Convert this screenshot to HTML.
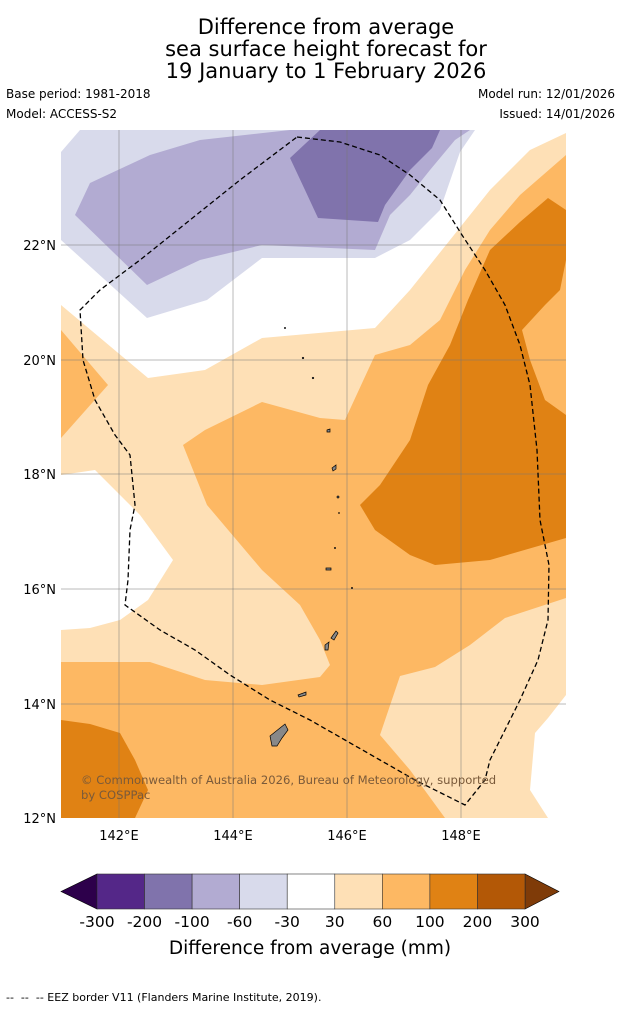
<!DOCTYPE html>
<html><head><meta charset="utf-8"><style>
body{margin:0;width:621px;height:1011px;background:#fff;font-family:"DejaVu Sans","Liberation Sans",sans-serif;position:relative;overflow:hidden}
.t{position:absolute;white-space:nowrap}
</style></head><body>
<div class="t" style="left:0;width:652px;top:16px;text-align:center;font-size:21px;line-height:22px;color:#000">Difference from average<br>sea surface height forecast for<br>19 January to 1 February 2026</div>
<div class="t" style="left:6px;top:87px;font-size:12px">Base period: 1981-2018</div>
<div class="t" style="left:6px;top:107px;font-size:12px">Model: ACCESS-S2</div>
<div class="t" style="right:6px;top:87px;font-size:12px">Model run: 12/01/2026</div>
<div class="t" style="right:6px;top:107px;font-size:12px">Issued: 14/01/2026</div>
<svg width="621" height="1011" style="position:absolute;left:0;top:0">
<defs><clipPath id="mc"><rect x="61" y="130" width="505" height="688"/></clipPath></defs>
<g clip-path="url(#mc)">
<rect x="61" y="130" width="505" height="688" fill="#fff"/>
<polygon fill="#d8daeb" points="80,130 475,130 460,152 440,210 410,240 375,258 262,258 207,300 147,318 61,240 61,152"/>
<polygon fill="#b2abd2" points="290,130 470,130 455,140 430,170 410,195 390,215 375,250 330,248 262,245 200,260 147,285 75,215 90,183 150,155 200,140"/>
<polygon fill="#8073ac" points="290,158 320,130 440,130 432,148 410,170 385,205 378,222 318,218 305,190"/>
<polygon fill="#fee0b6" points="566,133 530,150 490,190 450,240 410,290 375,328 262,338 205,370 148,378 61,305 61,818 566,818"/>
<polygon fill="#fff" points="61,475 95,470 140,515 173,560 148,600 120,620 90,628 61,630"/>
<polygon fill="#fdb863" points="61,330 108,385 61,438"/>
<polygon fill="#fdb863" points="566,155 520,195 490,230 465,270 440,320 410,345 375,355 345,420 320,418 262,402 205,430 183,445 207,505 262,570 300,605 320,640 330,665 320,677 262,685 205,680 150,662 61,662 61,818 566,818"/>
<polygon fill="#fee0b6" points="380,735 410,770 445,818 566,818 566,598 505,618 470,645 435,667 400,676"/>
<polygon fill="#fff" points="566,695 548,718 535,733 530,790 548,818 566,818"/>
<polygon fill="#e08214" points="566,210 548,198 520,222 490,250 468,300 450,345 428,385 410,440 380,485 360,505 375,530 410,555 435,565 490,560 566,538 566,415 545,400 530,360 522,330 545,305 560,290 566,260"/>
<polygon fill="#e08214" points="61,720 90,724 120,733 135,760 148,790 135,818 61,818"/>
</g>
<g stroke="#777" stroke-width="0.5">
<line x1="119" y1="130" x2="119" y2="818"/><line x1="233" y1="130" x2="233" y2="818"/><line x1="347" y1="130" x2="347" y2="818"/><line x1="461" y1="130" x2="461" y2="818"/>
<line x1="61" y1="245" x2="566" y2="245"/><line x1="61" y1="360" x2="566" y2="360"/><line x1="61" y1="474" x2="566" y2="474"/><line x1="61" y1="589" x2="566" y2="589"/><line x1="61" y1="704" x2="566" y2="704"/>
</g>
<g fill="#888" stroke="#000" stroke-width="0.7">
<path d="M270,736 L280,728 L285,724 L288,730 L282,738 L277,746 L272,746 Z"/>
<path d="M298,695 L306,692 L306,695 L299,697 Z"/>
<path d="M331,638 L336,631 L338,633 L334,640 Z"/>
<path d="M325,645 L329,642 L328,650 L325,650 Z"/>
<path d="M326,568 L331,568 L331,570 L326,570 Z"/>
<path d="M332,468 L336,465 L336,469 L333,471 Z"/>
<path d="M327,430 L330,429 L330,432 L327,432 Z"/>
<circle cx="338" cy="497" r="1"/><circle cx="303" cy="358" r="0.8"/><circle cx="313" cy="378" r="0.8"/><circle cx="285" cy="328" r="0.6"/><circle cx="335" cy="548" r="0.6"/><circle cx="352" cy="588" r="0.6"/><circle cx="339" cy="513" r="0.5"/>
</g>
<polyline fill="none" stroke="#000" stroke-width="1.3" stroke-dasharray="5,3" points="297,137 340,142 380,155 410,175 440,200 462,235 485,270 505,305 520,345 530,385 537,450 540,520 549,565 548,620 538,660 520,700 505,730 490,760 485,780 465,805 445,795 415,780 380,760 345,740 310,720 270,700 230,675 195,650 160,630 125,605 128,580 130,530 135,505 130,455 115,435 95,400 83,360 80,310 100,290 140,260 190,220 240,180 297,137"/>
<text x="81" y="784" font-size="11.6" fill="#7a5a3a" font-family="DejaVu Sans,sans-serif">© Commonwealth of Australia 2026, Bureau of Meteorology, supported</text>
<text x="81" y="799" font-size="11.6" fill="#7a5a3a" font-family="DejaVu Sans,sans-serif">by COSPPac</text>
<g font-size="13" fill="#000" font-family="DejaVu Sans,sans-serif">
<text x="56" y="250" text-anchor="end">22°N</text><text x="56" y="365" text-anchor="end">20°N</text><text x="56" y="479" text-anchor="end">18°N</text><text x="56" y="594" text-anchor="end">16°N</text><text x="56" y="709" text-anchor="end">14°N</text><text x="56" y="823" text-anchor="end">12°N</text>
<text x="119" y="840" text-anchor="middle">142°E</text><text x="233" y="840" text-anchor="middle">144°E</text><text x="347" y="840" text-anchor="middle">146°E</text><text x="461" y="840" text-anchor="middle">148°E</text>
</g>
<g id="cbar"></g>
<text x="310" y="954" text-anchor="middle" font-size="18.5" font-family="DejaVu Sans,sans-serif">Difference from average (mm)</text>
</svg>
<div class="t" style="left:6px;top:991px;font-size:11px">-- &nbsp;-- &nbsp;-- EEZ border V11 (Flanders Marine Institute, 2019).</div>
<script>
const tickLabels=["-300","-200","-100","-60","-30","30","60","100","200","300"];
const binColors=["#542788","#8073ac","#b2abd2","#d8daeb","#ffffff","#fee0b6","#fdb863","#e08214","#b35806"];
const extColors=["#2d004b","#7f3b08"];
const g=document.getElementById('cbar');const ns="http://www.w3.org/2000/svg";
const x0=97,x1=525,y0=874,y1=909,w=(x1-x0)/binColors.length;
function mk(t,a){const e=document.createElementNS(ns,t);for(const k in a)e.setAttribute(k,a[k]);g.appendChild(e);return e;}
let e=mk('polygon',{points:`${x0},${y0} ${x0},${y1} 61,${(y0+y1)/2}`,fill:extColors[0],stroke:'#000','stroke-width':0.6});


e=mk('polygon',{points:`${x1},${y0} ${x1},${y1} 559,${(y0+y1)/2}`,fill:extColors[1],stroke:'#000','stroke-width':0.6});


binColors.forEach((c,i)=>{const r=mk('rect',{x:x0+i*w,y:y0,width:w,height:y1-y0,fill:c,stroke:'#333','stroke-width':0.6});

});
tickLabels.forEach((l,i)=>{const t=mk('text',{x:x0+i*w,y:927,'text-anchor':'middle','font-size':15.5,'font-family':'DejaVu Sans,sans-serif'});t.textContent=l;

});
</script>
</body></html>
